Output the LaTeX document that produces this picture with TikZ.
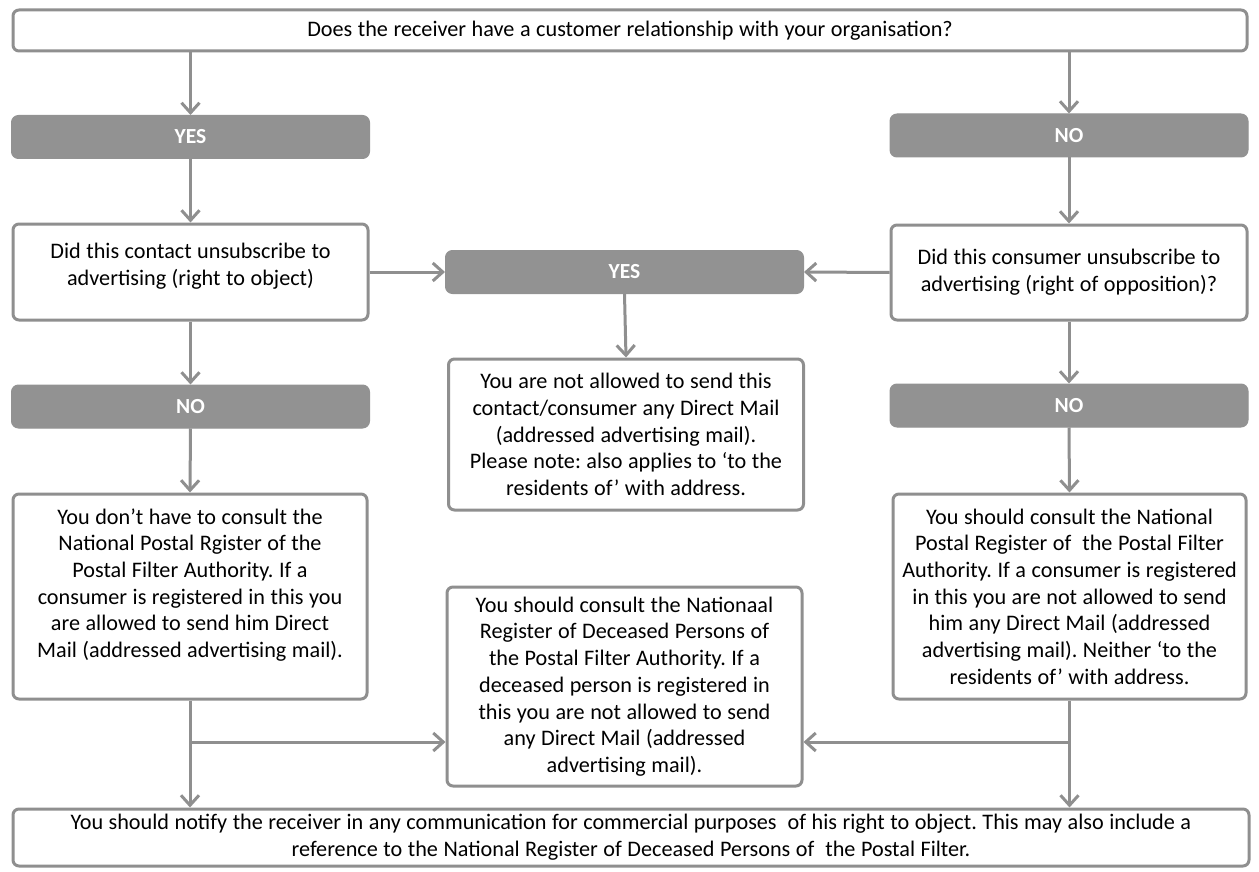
\documentclass[tikz,border=0pt]{standalone}
\usepackage{fontspec}
\setmainfont{Carlito}[WordSpace=1.1]
\usetikzlibrary{arrows.meta}
\definecolor{lc}{HTML}{8F8F8F}
\definecolor{fc}{HTML}{929292}
\begin{document}
\frenchspacing
\begin{tikzpicture}[x=1pt,y=-1pt,
  txtfont/.style={font=\fontsize{22.2}{26.7}\selectfont},
  box/.style={draw=lc, line width=3pt, rounded corners=6pt, fill=white, inner sep=0pt, align=center, txtfont},
  tag/.style={fill=fc, draw=fc, line width=1pt, rounded corners=7pt, inner sep=0pt, text=white, font=\fontsize{21.5}{24}\selectfont\bfseries, minimum width=358pt, minimum height=43pt},
  plain/.style={inner sep=0pt, align=center, txtfont},
  arr/.style={draw=lc, line width=3pt, -{Straight Barb[length=10pt,width=18pt]}}]
\useasboundingbox (0,0) rectangle (1259,872);
% boxes
\node[box, minimum width=1234pt, minimum height=41pt] (top) at (630,30.5) {Does the receiver have a customer relationship with your organisation?};
\node[tag] (lyes) at (190.5,137) {YES};
\node[tag] (rno) at (1069,135.5) {NO};
\node[box, minimum width=355pt, minimum height=96pt] (lq) at (190.5,272) {};
\node[plain] (lqt) at (190.5,266.5) {Did this contact unsubscribe to\\advertising (right to object)};
\node[box, minimum width=356pt, minimum height=95pt] (rq) at (1069,272.5) {Did this consumer unsubscribe to\\advertising (right of opposition)?};
\node[tag] (myes) at (624.5,272) {YES};
\node[tag] (lno) at (190.5,406.5) {NO};
\node[tag] (rno2) at (1069,405.5) {NO};
\node[box, minimum width=355pt, minimum height=151pt] (mb1) at (626,434.5) {You are not allowed to send this\\contact/consumer any Direct Mail\\(addressed advertising mail).\\Please note: also applies to ‘to the\\residents of’ with address.};
\node[box, minimum width=354pt, minimum height=205pt] (lbig) at (190,596.5) {};
\node[plain] (lbigt) at (190,585) {You don’t have to consult the\\National Postal Rgister of the\\Postal Filter Authority. If a\\consumer is registered in this you\\are allowed to send him Direct\\Mail (addressed advertising mail).};
\node[box, minimum width=353pt, minimum height=205pt] (rbig) at (1069.5,596.5) {You should consult the National\\Postal Register of~ the Postal Filter\\Authority. If a consumer is registered\\in this you are not allowed to send\\him any Direct Mail (addressed\\advertising mail). Neither ‘to the\\residents of’ with address.};
\node[box, minimum width=355pt, minimum height=199pt] (mb2) at (624.5,686.5) {You should consult the Nationaal\\Register of Deceased Persons of\\the Postal Filter Authority. If a\\deceased person is registered in\\this you are not allowed to send\\any Direct Mail (addressed\\advertising mail).};
\node[box, minimum width=1236pt, minimum height=57pt] (bot) at (631,837.5) {You should notify the receiver in any communication for commercial purposes~ of his right to object. This may also include a\\reference to the National Register of Deceased Persons of~ the Postal Filter.};
% connectors
\draw[arr] (top.south -| lyes) -- (lyes.north);
\draw[arr] (top.south -| rno) -- (rno.north);
\draw[arr] (lyes.south) -- (lq.north);
\draw[arr] (rno.south) -- (rq.north);
\draw[arr] (lq.south) -- (lno.north);
\draw[arr] (rq.south) -- (rno2.north);
\draw[arr] (lno.south) -- (lbig.north);
\draw[arr] (rno2.south) -- (rbig.north);
\draw[arr] (lq.east) -- (myes.west);
\draw[arr] (rq.west) -- (myes.east);
\draw[arr] (myes.south) -- (mb1.north);
\coordinate (lj) at (lbig.south |- 0,742);
\coordinate (rj) at (rbig.south |- 0,742);
\draw[arr] (lbig.south) -- (bot.north -| lbig.south);
\draw[arr] (rbig.south) -- (bot.north -| rbig.south);
\draw[arr] (lj) -- (mb2.west |- lj);
\draw[arr] (rj) -- (mb2.east |- rj);
\end{tikzpicture}
\end{document}
